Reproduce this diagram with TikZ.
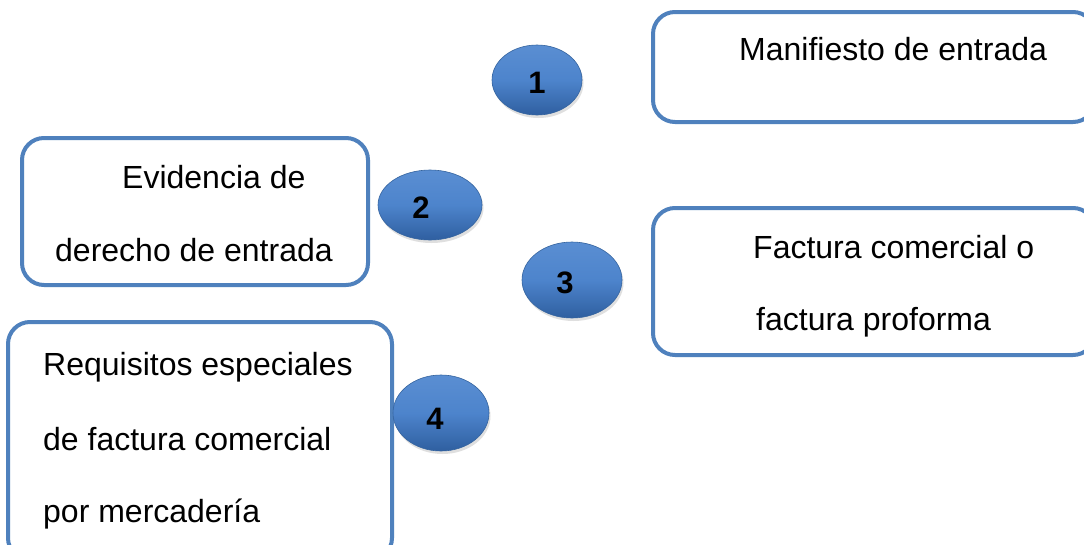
\documentclass[tikz,border=0pt]{standalone}
\usepackage{fontspec}
\setmainfont{Liberation Sans}
\usetikzlibrary{shapes.geometric,shadows}
\definecolor{boxblue}{HTML}{4F81BD}
\definecolor{balltop}{HTML}{5A8ED2}
\definecolor{ballmid}{HTML}{4D84CC}
\definecolor{ballbot}{HTML}{2F5FA0}
\definecolor{ballline}{HTML}{35649F}
\tikzset{
  docbox/.style={draw=boxblue, line width=4pt, rounded corners=22pt, fill=white, inner sep=0pt},
  ball/.style={ellipse, inner sep=0pt, draw=ballline, line width=0.6pt,
    top color=balltop, bottom color=ballbot, middle color=ballmid,
    drop shadow={opacity=0.25, shadow xshift=1.5pt, shadow yshift=-3pt}},
  num/.style={inner sep=0pt, font=\fontsize{31}{33}\selectfont\bfseries},
  txt/.style={anchor=base west, inner sep=0pt, font=\fontsize{32}{38}\selectfont}
}
\begin{document}
\begin{tikzpicture}[x=1pt,y=-1pt]
\clip (0,0) rectangle (1084,544);
\fill[white] (0,0) rectangle (1084,544);
% boxes
\node[docbox, minimum width=442pt, minimum height=110pt] (b1) at (874,67) {};
\node[docbox, minimum width=346pt, minimum height=147pt] (b2) at (195,211.5) {};
\node[docbox, minimum width=442pt, minimum height=147pt] (b3) at (874,281.5) {};
\node[docbox, minimum width=384pt, minimum height=238pt] (b4) at (200,441) {};
% texts
\node[txt] (t1) at (739,60) {Manifiesto de entrada};
\node[txt] (t2a) at (122,188) {Evidencia de};
\node[txt] (t2b) at (55,261) {derecho de entrada};
\node[txt] (t3a) at (753,258) {Factura comercial o};
\node[txt] (t3b) at (756,330) {factura proforma};
\node[txt] (t4a) at (43,375) {Requisitos especiales};
\node[txt] (t4b) at (43,450) {de factura comercial};
\node[txt] (t4c) at (43,522) {por mercadería};
% balls
\node[ball, minimum width=90pt, minimum height=70pt] (n1) at (537,80) {};
\node[ball, minimum width=104pt, minimum height=70pt] (n2) at (430,205) {};
\node[ball, minimum width=100pt, minimum height=76pt] (n3) at (572,280) {};
\node[ball, minimum width=96pt, minimum height=76pt] (n4) at (441,413) {};
\node[num] (l1) at (537,83) {1};
\node[num] (l2) at (421,208) {2};
\node[num] (l3) at (565,283) {3};
\node[num] (l4) at (435,419) {4};
\end{tikzpicture}
\end{document}
